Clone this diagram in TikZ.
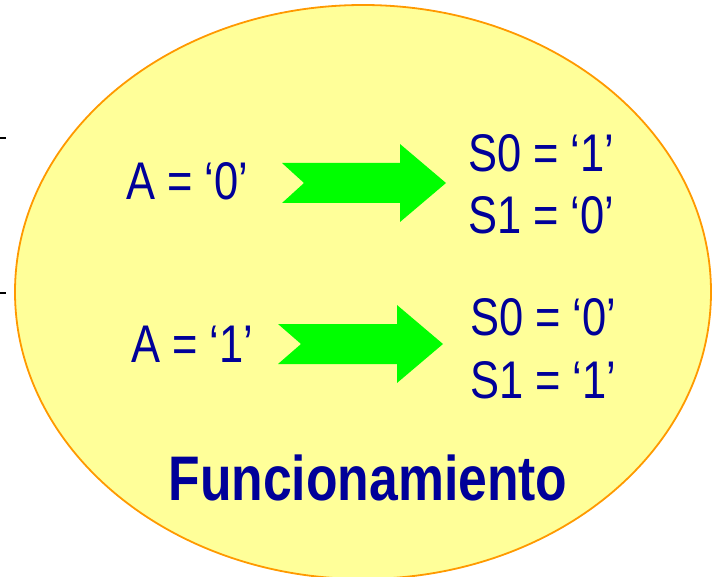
\documentclass[tikz,border=0pt]{standalone}
\usepackage{fontspec}
\setmainfont{Liberation Sans}
\definecolor{ellfill}{HTML}{FFFF99}
\definecolor{ellline}{HTML}{FF9900}
\definecolor{txtblue}{HTML}{000099}
\definecolor{arrgreen}{HTML}{00FF00}
\newcommand\sqz[1]{\scalebox{0.82}[1]{#1}}
\tikzset{
  lbl/.style={inner sep=0pt, anchor=base west, text=txtblue, font=\fontsize{53}{60}\selectfont},
  titlelbl/.style={inner sep=0pt, anchor=base, text=txtblue, font=\fontsize{63}{70}\selectfont\bfseries},
  bigarrow/.style={fill=arrgreen, draw=none},
  tickline/.style={draw=black, line width=1.4pt}
}
\begin{document}
\begin{tikzpicture}[x=1pt,y=-1pt]
\useasboundingbox (0,0) rectangle (712,577);
% ticks at the left edge
\coordinate (t1a) at (0,138); \coordinate (t1b) at (6,138);
\coordinate (t2a) at (0,293); \coordinate (t2b) at (6,293);
\draw[tickline] (t1a) -- (t1b);
\draw[tickline] (t2a) -- (t2b);
% ellipse
\coordinate (ec) at (363,292);
\filldraw[fill=ellfill, draw=ellline, line width=1.8pt] (ec) ellipse [x radius=348, y radius=287];
% arrow 1
\coordinate (ar1) at (282,183);
\fill[bigarrow] (ar1) ++(0,-20) -- ++(118,0) -- ++(0,-19) -- ++(46,39) -- ++(-46,39) -- ++(0,-19) -- ++(-118,0) -- ++(22,-20) -- cycle;
% arrow 2
\coordinate (ar2) at (278,344);
\fill[bigarrow] (ar2) ++(0,-20) -- ++(119,0) -- ++(0,-19) -- ++(46,39) -- ++(-46,39) -- ++(0,-19) -- ++(-119,0) -- ++(23,-20) -- cycle;
% texts
\node[lbl] (a0) at (126,200) {\sqz{A = ‘0’}};
\node[lbl] (a1) at (131,362) {\sqz{A = ‘1’}};
\node[lbl] (s0a) at (468,172) {\sqz{S0 = ‘1’}};
\node[lbl] (s1a) at (468,234) {\sqz{S1 = ‘0’}};
\node[lbl] (s0b) at (470,335) {\sqz{S0 = ‘0’}};
\node[lbl] (s1b) at (470,398) {\sqz{S1 = ‘1’}};
\node[titlelbl] (fn) at (368,500) {\sqz{Funcionamiento}};
\end{tikzpicture}
\end{document}
